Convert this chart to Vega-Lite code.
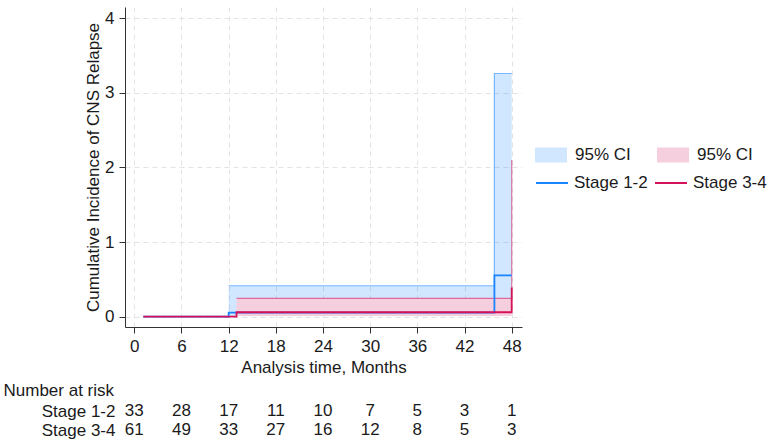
{
  "$schema": "https://vega.github.io/schema/vega-lite/v6.json",
  "padding": {"left": 3, "top": 7, "right": 2, "bottom": 0},
  "background": "white",
  "config": {
    "font": "Liberation Sans",
    "view": {"stroke": null},
    "axis": {
      "labelFontSize": 17, "titleFontSize": 17, "titleFontWeight": "normal",
      "labelColor": "#1a1a1a", "titleColor": "#1a1a1a",
      "domainColor": "#333333", "tickColor": "#333333",
      "gridColor": "#e3e3e3", "gridDash": [5, 4], "gridWidth": 1,
      "labelFont": "Liberation Sans", "titleFont": "Liberation Sans"
    },
    "legend": {"labelFontSize": 17, "labelColor": "#1a1a1a", "labelFont": "Liberation Sans"}
  },
  "datasets": {
    "bands": [
      {"band": "CI Stage 1-2", "t": 12, "lo": 0.005, "hi": 0.415},
      {"band": "CI Stage 1-2", "t": 45.8, "lo": 0.07, "hi": 3.26},
      {"band": "CI Stage 1-2", "t": 48, "lo": 0.07, "hi": 3.26},
      {"band": "CI Stage 3-4", "t": 13, "lo": 0.01, "hi": 0.246},
      {"band": "CI Stage 3-4", "t": 48, "lo": 0.03, "hi": 2.1}
    ],
    "curves": [
      {"group": "Stage 1-2", "t": 1.15, "est": 0},
      {"group": "Stage 1-2", "t": 12, "est": 0.054},
      {"group": "Stage 1-2", "t": 45.8, "est": 0.555},
      {"group": "Stage 1-2", "t": 48, "est": 0.555},
      {"group": "Stage 3-4", "t": 1.15, "est": 0},
      {"group": "Stage 3-4", "t": 13, "est": 0.06},
      {"group": "Stage 3-4", "t": 48, "est": 0.39}
    ],
    "risk": [
      {"group": "Stage 1-2", "t": 0, "n": 33},
      {"group": "Stage 1-2", "t": 6, "n": 28},
      {"group": "Stage 1-2", "t": 12, "n": 17},
      {"group": "Stage 1-2", "t": 18, "n": 11},
      {"group": "Stage 1-2", "t": 24, "n": 10},
      {"group": "Stage 1-2", "t": 30, "n": 7},
      {"group": "Stage 1-2", "t": 36, "n": 5},
      {"group": "Stage 1-2", "t": 42, "n": 3},
      {"group": "Stage 1-2", "t": 48, "n": 1},
      {"group": "Stage 3-4", "t": 0, "n": 61},
      {"group": "Stage 3-4", "t": 6, "n": 49},
      {"group": "Stage 3-4", "t": 12, "n": 33},
      {"group": "Stage 3-4", "t": 18, "n": 27},
      {"group": "Stage 3-4", "t": 24, "n": 16},
      {"group": "Stage 3-4", "t": 30, "n": 12},
      {"group": "Stage 3-4", "t": 36, "n": 8},
      {"group": "Stage 3-4", "t": 42, "n": 5},
      {"group": "Stage 3-4", "t": 48, "n": 3}
    ]
  },
  "vconcat": [
    {
      "width": 397,
      "height": 320,
      "encoding": {
        "x": {
          "field": "t", "type": "quantitative",
          "scale": {"domain": [-1.18, 49.31], "nice": false, "zero": false},
          "axis": {"title": "Analysis time, Months", "values": [0, 6, 12, 18, 24, 30, 36, 42, 48], "tickSize": 6, "labelPadding": 5, "titlePadding": 5, "labelFlush": false, "labelOverlap": false}
        }
      },
      "layer": [
        {
          "data": {"name": "bands"},
          "transform": [{"filter": "datum.band === 'CI Stage 1-2'"}],
          "mark": {"type": "area", "interpolate": "step-after", "fillOpacity": 0.2, "line": {"strokeWidth": 1.2, "opacity": 0.55}},
          "encoding": {
            "y": {
              "field": "hi", "type": "quantitative",
              "scale": {"domain": [-0.138, 4.151], "nice": false, "zero": false},
              "axis": {"title": "Cumulative Incidence of CNS Relapse", "values": [0, 1, 2, 3, 4], "format": "d", "tickSize": 6, "labelPadding": 5, "titlePadding": 2, "labelFlush": false}
            },
            "y2": {"field": "lo"},
            "color": {
              "field": "band", "type": "nominal",
              "scale": {"domain": ["CI Stage 1-2", "CI Stage 3-4"], "range": ["#1a85ff", "#d41159"]},
              "legend": {
                "title": null, "orient": "none", "legendX": 410, "legendY": 132,
                "columns": 2, "columnPadding": 26, "padding": 0,
                "symbolType": "M-1,-0.47H1V0.47H-1Z", "symbolSize": 1024,
                "symbolOpacity": 0.2, "symbolStrokeWidth": 0, "labelOffset": 8,
                "labelExpr": "'95% CI'"
              }
            }
          }
        },
        {
          "data": {"name": "bands"},
          "transform": [{"filter": "datum.band === 'CI Stage 3-4'"}],
          "mark": {"type": "area", "interpolate": "step-after", "fill": "white", "fillOpacity": 1},
          "encoding": {
            "y": {"field": "hi", "type": "quantitative"},
            "y2": {"field": "lo"}
          }
        },
        {
          "data": {"name": "bands"},
          "transform": [{"filter": "datum.band === 'CI Stage 3-4'"}],
          "mark": {"type": "area", "interpolate": "step-after", "fillOpacity": 0.2, "line": {"strokeWidth": 1.2, "opacity": 0.55}},
          "encoding": {
            "y": {"field": "hi", "type": "quantitative"},
            "y2": {"field": "lo"},
            "color": {
              "field": "band", "type": "nominal",
              "scale": {"domain": ["CI Stage 1-2", "CI Stage 3-4"], "range": ["#1a85ff", "#d41159"]},
              "legend": {
                "title": null, "orient": "none", "legendX": 410, "legendY": 132,
                "columns": 2, "columnPadding": 26, "padding": 0,
                "symbolType": "M-1,-0.47H1V0.47H-1Z", "symbolSize": 1024,
                "symbolOpacity": 0.2, "symbolStrokeWidth": 0, "labelOffset": 8,
                "labelExpr": "'95% CI'"
              }
            }
          }
        },
        {
          "data": {"name": "curves"},
          "mark": {"type": "line", "interpolate": "step-after", "strokeWidth": 1.8},
          "encoding": {
            "y": {"field": "est", "type": "quantitative"},
            "stroke": {
              "field": "group", "type": "nominal",
              "scale": {"domain": ["Stage 1-2", "Stage 3-4"], "range": ["#1a85ff", "#d41159"]},
              "legend": {
                "title": null, "orient": "none", "legendX": 410, "legendY": 159,
                "columns": 2, "columnPadding": 3, "padding": 0,
                "symbolType": "stroke", "symbolSize": 1024, "symbolStrokeWidth": 2,
                "labelOffset": 5
              }
            }
          }
        }
      ]
    },
    {
      "width": 397,
      "height": 38,
      "data": {"name": "risk"},
      "mark": {"type": "text", "fontSize": 17, "color": "#1a1a1a", "font": "Liberation Sans"},
      "encoding": {
        "x": {
          "field": "t", "type": "quantitative",
          "scale": {"domain": [-1.18, 49.31], "nice": false, "zero": false},
          "axis": null
        },
        "y": {
          "field": "group", "type": "nominal",
          "scale": {"type": "point", "domain": ["Stage 1-2", "Stage 3-4"], "padding": 0.5},
          "axis": {
            "title": "Number at risk", "titleAngle": 0, "titleAlign": "left", "titleBaseline": "middle",
            "titleX": -122, "titleY": -11.5, "domain": false, "ticks": false, "tickSize": 0,
            "grid": false, "labelPadding": 10
          }
        },
        "text": {"field": "n", "type": "quantitative"}
      }
    }
  ],
  "spacing": 74.5,
  "bounds": "flush",
  "resolve": {"scale": {"x": "independent", "y": "independent"}}
}
